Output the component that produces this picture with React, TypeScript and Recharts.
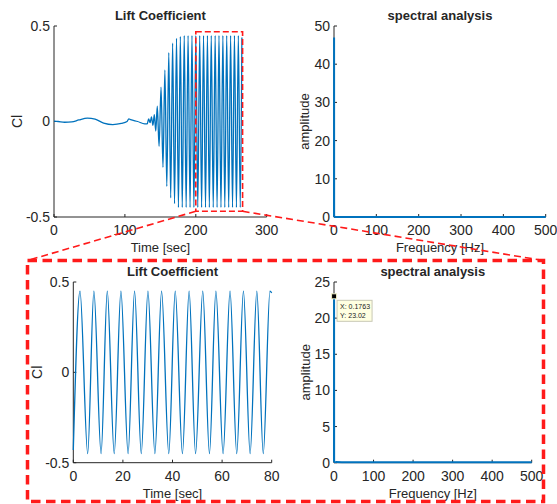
import React from "react";
import {
  LineChart,
  Line,
  XAxis,
  YAxis,
  ReferenceArea,
  ReferenceDot,
} from "recharts";

const BLUE = "#0072BD";
const AXIS = "#262626";
const RED = "#ff1a1a";
const FONT = "'Liberation Sans', Arial, Helvetica, sans-serif";

// whole run: lift coefficient vs time
const runTime = [
  0, 6, 15, 25, 35, 47, 58, 70, 83, 95, 103, 105.5, 108, 118, 128,
  131.5, 133.5, 135.5, 137.5, 139.5, 141.5, 143.5,
  145.7, 148.2, 151.0, 153.7, 156.4, 159.1, 161.9, 164.6, 167.3, 170.0,
  172.8, 175.5, 178.2, 180.9, 183.7, 186.4, 189.1, 191.9, 194.6, 197.3,
  200.0, 202.8, 205.5, 208.2, 210.9, 213.7, 216.4, 219.1, 221.8, 224.6,
  227.3, 230.0, 232.7, 235.5, 238.2, 240.9, 243.6, 246.4, 249.1, 251.8,
  254.5, 257.3, 260.0, 262.7, 265.0,
];
const runCl = [
  0.002, 0.0, -0.004, -0.002, 0.008, 0.018, 0.012, -0.008, -0.016, -0.01,
  0.0, 0.014, 0.01, 0.0, -0.012,
  -0.012, 0.014, -0.006, 0.024, -0.02, 0.036, -0.05,
  0.08, -0.13, 0.18, -0.24, 0.27, -0.34, 0.36, -0.4, 0.41, -0.43,
  0.435, -0.45, 0.445, -0.45, 0.45, -0.45, 0.45, -0.45, 0.45, -0.45,
  0.45, -0.45, 0.45, -0.45, 0.45, -0.45, 0.45, -0.45, 0.45, -0.45,
  0.45, -0.45, 0.45, -0.45, 0.45, -0.45, 0.45, -0.45, 0.45, -0.45,
  0.45, -0.45, 0.45, -0.45, 0.44,
];

// zoomed window, steady oscillation
const winTime = [
  0, 2.7, 5.8, 8.3, 11.2, 13.7, 16.5, 19.2, 22.1, 24.7, 27.4, 30.1, 32.9,
  35.6, 38.5, 41.1, 44.0, 46.7, 49.3, 52.2, 54.9, 57.5, 60.4, 63.2, 65.9,
  68.6, 71.3, 74.0, 76.6, 79.3, 80,
];
const winCl = [
  -0.43, 0.45, -0.45, 0.45, -0.45, 0.45, -0.45, 0.45, -0.45, 0.45, -0.45,
  0.45, -0.45, 0.45, -0.45, 0.45, -0.45, 0.45, -0.45, 0.45, -0.45, 0.45,
  -0.45, 0.45, -0.45, 0.45, -0.45, 0.45, -0.45, 0.45, 0.44,
];

// spectra
const specFreq = [0, 0.1763, 0.35, 0.7, 1.5, 5, 20, 50, 100, 200, 300, 400, 500];
const specRun = [0.3, 47, 0.4, 0.1, 0.05, 0.03, 0.02, 0.02, 0.02, 0.02, 0.02, 0.02, 0.02];
const specWin = [0.2, 23.02, 0.3, 0.15, 0.1, 0.08, 0.07, 0.06, 0.06, 0.06, 0.06, 0.06, 0.06];

const runTicks = [0, 100, 200, 300];
const winTicks = [0, 20, 40, 60, 80];
const clTicks = [-0.5, 0, 0.5];
const freqTicks = [0, 100, 200, 300, 400, 500];
const ampRunTicks = [0, 10, 20, 30, 40, 50];
const ampWinTicks = [0, 5, 10, 15, 20, 25];

const zip = (xs: number[], ys: number[]) => xs.map((x, i) => ({ x, y: ys[i] }));

const tickStyle = { fill: AXIS, fontSize: 14, fontFamily: FONT };

type PanelProps = {
  left: number;
  top: number;
  width: number;
  height: number;
  yWidth: number;
  mTop: number;
  mRight: number;
  xHeight: number;
  data: { x: number; y: number }[];
  xDomain: [number, number];
  xTicks: number[];
  yDomain: [number, number];
  yTicks: number[];
  lineType: "monotone" | "linear";
  lineWidth: number;
  children?: React.ReactNode;
};

function Panel(p: PanelProps) {
  return (
    <div style={{ position: "absolute", left: p.left, top: p.top }}>
      <LineChart
        width={p.width}
        height={p.height}
        data={p.data}
        margin={{ top: p.mTop, right: p.mRight, bottom: 0, left: 0 }}
      >
        <XAxis
          dataKey="x"
          type="number"
          domain={p.xDomain}
          ticks={p.xTicks}
          interval={0}
          height={p.xHeight}
          tickSize={-3}
          tickMargin={11}
          stroke={AXIS}
          tick={tickStyle}
        />
        <XAxis
          xAxisId="top"
          orientation="top"
          dataKey="x"
          type="number"
          domain={p.xDomain}
          ticks={p.xTicks}
          interval={0}
          height={0}
          tickSize={-3}
          tick={false}
          stroke={AXIS}
        />
        <YAxis
          type="number"
          domain={p.yDomain}
          ticks={p.yTicks}
          interval={0}
          width={p.yWidth}
          tickSize={-3}
          tickMargin={7}
          stroke={AXIS}
          tick={tickStyle}
        />
        <YAxis
          yAxisId="right"
          orientation="right"
          type="number"
          domain={p.yDomain}
          ticks={p.yTicks}
          interval={0}
          width={0}
          tickSize={-3}
          tick={false}
          stroke={AXIS}
        />
        <Line
          dataKey="y"
          type={p.lineType}
          stroke={BLUE}
          strokeWidth={p.lineWidth}
          dot={false}
          isAnimationActive={false}
          zIndex={700}
        />
        {p.children}
      </LineChart>
    </div>
  );
}

function DataTip(props: any) {
  const { cx, cy } = props;
  return (
    <g>
      <rect x={cx + 3} y={cy + 4} width={35} height={21} fill="#ffffe1" stroke="#c8c8b4" strokeWidth={1} />
      <text x={cx + 6} y={cy + 13} fontSize={7} fontFamily={FONT} fill="#222">
        X: 0.1763
      </text>
      <text x={cx + 6} y={cy + 22} fontSize={7} fontFamily={FONT} fill="#222">
        Y: 23.02
      </text>
      <rect x={cx - 2.5} y={cy - 2.5} width={5} height={5} fill="#000" stroke="#f0f0c8" strokeWidth={1} />
    </g>
  );
}

const txt = { fontFamily: FONT, fill: AXIS };

export default function App() {
  return (
    <div
      style={{
        position: "absolute",
        left: 0,
        top: 0,
        width: 557,
        height: 504,
        background: "#fff",
        overflow: "hidden",
      }}
    >
      <Panel
        left={0}
        top={0}
        width={290}
        height={258}
        yWidth={54}
        mTop={26}
        mRight={23.3}
        xHeight={41}
        data={zip(runTime, runCl)}
        xDomain={[0, 300]}
        xTicks={runTicks}
        yDomain={[-0.5, 0.5]}
        yTicks={clTicks}
        lineType="monotone"
        lineWidth={1.3}
      >
        <ReferenceArea
          x1={200}
          x2={266}
          y1={-0.47}
          y2={0.47}
          fill="none"
          stroke={RED}
          strokeWidth={1.6}
          strokeDasharray="6 3"
          ifOverflow="visible"
          zIndex={800}
        />
      </Panel>
      <Panel
        left={280}
        top={0}
        width={277}
        height={258}
        yWidth={54}
        mTop={26}
        mRight={11.3}
        xHeight={41}
        data={zip(specFreq, specRun)}
        xDomain={[0, 500]}
        xTicks={freqTicks}
        yDomain={[0, 50]}
        yTicks={ampRunTicks}
        lineType="linear"
        lineWidth={2}
      />
      <Panel
        left={0}
        top={262}
        width={290}
        height={242}
        yWidth={73.3}
        mTop={20}
        mRight={18.3}
        xHeight={41.3}
        data={zip(winTime, winCl)}
        xDomain={[0, 80]}
        xTicks={winTicks}
        yDomain={[-0.5, 0.5]}
        yTicks={clTicks}
        lineType="monotone"
        lineWidth={1.3}
      />
      <Panel
        left={280}
        top={262}
        width={277}
        height={242}
        yWidth={54}
        mTop={20}
        mRight={25.3}
        xHeight={41.3}
        data={zip(specFreq, specWin)}
        xDomain={[0, 500]}
        xTicks={freqTicks}
        yDomain={[0, 25]}
        yTicks={ampWinTicks}
        lineType="linear"
        lineWidth={2}
      >
        <ReferenceDot x={0.1763} y={23.02} r={3} shape={DataTip} ifOverflow="visible" zIndex={900} />
      </Panel>

      <svg
        width={557}
        height={504}
        style={{ position: "absolute", left: 0, top: 0, pointerEvents: "none", zIndex: 2 }}
      >
        <g fontWeight="bold" fontSize={13} textAnchor="middle" {...txt}>
          <text x={160.4} y={20}>Lift Coefficient</text>
          <text x={440} y={20}>spectral analysis</text>
          <text x={172.5} y={276}>Lift Coefficient</text>
          <text x={432.8} y={276}>spectral analysis</text>
        </g>
        <g fontSize={13} textAnchor="middle" {...txt}>
          <text x={160.4} y={252}>Time [sec]</text>
          <text x={440} y={252}>Frequency [Hz]</text>
          <text x={172.5} y={497.5}>Time [sec]</text>
          <text x={432.8} y={497.5}>Frequency [Hz]</text>
          <text x={309} y={121.5} transform="rotate(-90 309 121.5)">amplitude</text>
          <text x={310} y={372.3} transform="rotate(-90 310 372.3)">amplitude</text>
        </g>
        <g fontSize={14} textAnchor="middle" {...txt}>
          <text x={21.7} y={121.5} transform="rotate(-90 21.7 121.5)">Cl</text>
          <text x={42} y={372.3} transform="rotate(-90 42 372.3)">Cl</text>
        </g>
        <g stroke={RED} fill="none">
          <line x1={195.8} y1={211.3} x2={27.5} y2={260.5} strokeWidth={1.6} strokeDasharray="7 4" />
          <line x1={242.6} y1={211.3} x2={543.5} y2={260.5} strokeWidth={1.6} strokeDasharray="7 4" />
          <rect x={27.5} y={260.5} width={516} height={241} strokeWidth={3.5} strokeDasharray="9.5 5.5" />
        </g>
      </svg>
    </div>
  );
}
